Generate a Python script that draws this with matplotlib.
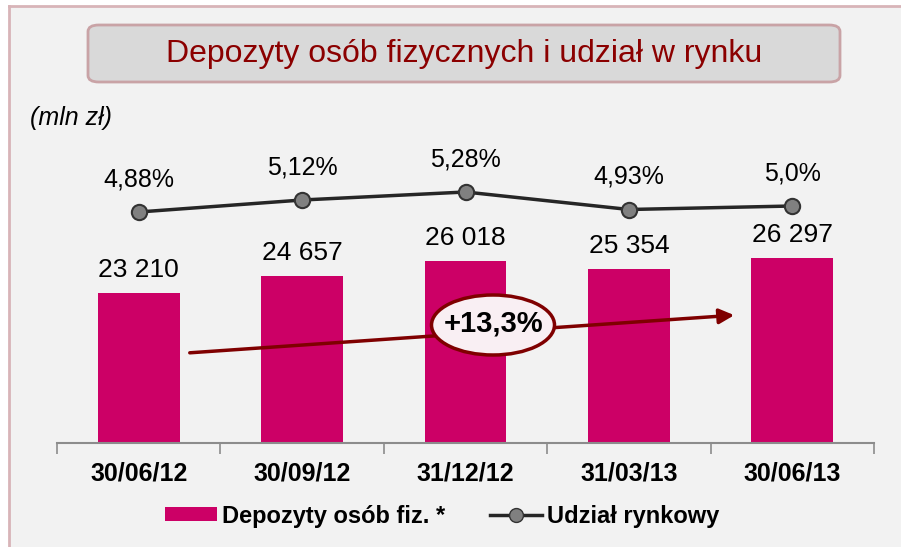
import matplotlib
matplotlib.use("Agg")
import matplotlib.pyplot as plt
from matplotlib.patches import Rectangle, FancyBboxPatch, Ellipse, FancyArrowPatch
from matplotlib.lines import Line2D

categories = ["30/06/12", "30/09/12", "31/12/12", "31/03/13", "30/06/13"]
deposits = [23210, 24657, 26018, 25354, 26297]
deposit_labels = ["23 210", "24 657", "26 018", "25 354", "26 297"]
share = [4.88, 5.12, 5.28, 4.93, 5.00]
share_labels = ["4,88%", "5,12%", "5,28%", "4,93%", "5,0%"]
growth_label = "+13,3%"
title = "Depozyty osób fizycznych i udział w rynku"
unit_label = "(mln zł)"
legend_labels = ["Depozyty osób fiz. *", "Udział rynkowy"]

FONT = "Liberation Sans"
plt.rcParams['font.family'] = [FONT, 'DejaVu Sans']

W, H = 901, 547
fig = plt.figure(figsize=(W / 100, H / 100), dpi=100, facecolor="white")

# panel background
fig.patches.append(Rectangle((9 / W, 0), 1 - 9 / W, 1 - 6 / H, transform=fig.transFigure,
                             facecolor="#f2f2f2", edgecolor="none", zorder=-10))
fig.add_artist(Line2D([9 / W, 9 / W], [0, 1 - 6 / H], transform=fig.transFigure,
                      color="#d8b4b8", lw=2, zorder=1))
fig.add_artist(Line2D([9 / W, 1], [1 - 6 / H, 1 - 6 / H], transform=fig.transFigure,
                      color="#d8b4b8", lw=2, zorder=1))

# title box
fig.patches.append(FancyBboxPatch((88 / W, 1 - 82 / H), (840 - 88) / W, (82 - 25) / H,
                                  boxstyle="round,pad=0,rounding_size=0.012",
                                  transform=fig.transFigure, facecolor="#d9d9d9",
                                  edgecolor="#c9a3a6", lw=2, zorder=1))
fig.text(464 / W, 1 - 54 / H, title, ha="center", va="center", fontsize=23,
         color="#8b0000", zorder=2)
fig.text(30 / W, 1 - 118 / H, unit_label, ha="left", va="center", fontsize=18,
         style="italic", color="black")

ax = fig.add_axes([57 / W, 104 / H, (874 - 57) / W, 284 / H])
ax.set_facecolor("none")
x = list(range(len(categories)))
ax.bar(x, deposits, width=0.5, color="#cc0066", zorder=2)
ax.set_xlim(-0.5, len(categories) - 0.5)
ax.set_ylim(10000, 35000)
for s in ["top", "right", "left"]:
    ax.spines[s].set_visible(False)
ax.spines["bottom"].set_color("#8c8c8c")
ax.spines["bottom"].set_linewidth(1.5)
ax.set_yticks([])
ax.set_xticks(x)
ax.set_xticklabels(categories, fontsize=18, fontweight="bold")
ax.tick_params(axis="x", which="major", length=0, pad=13)
ax.set_xticks([i - 0.5 for i in range(len(categories) + 1)], minor=True)
ax.tick_params(axis="x", which="minor", length=8, width=1.2, color="#8c8c8c", direction="out")

for xi, v, lab in zip(x, deposits, deposit_labels):
    ax.annotate(lab, (xi, v), xytext=(0, 16), textcoords="offset pixels",
                ha="center", va="baseline", fontsize=19, color="black")

ax2 = ax.twinx()
ax2.set_ylim(0.26, 5.94)
ax2.axis("off")
ax2.plot(x, share, color="#262626", lw=2.5, marker="o", markersize=11,
         markerfacecolor="#808080", markeredgecolor="#333333", markeredgewidth=1.5, zorder=3)
for xi, v, lab in zip(x, share, share_labels):
    ax2.annotate(lab, (xi, v), xytext=(0, 26), textcoords="offset pixels",
                 ha="center", va="baseline", fontsize=18, color="black")

# growth arrow
fig.add_artist(FancyArrowPatch(
    (187 / W, 1 - 353 / H), (737 / W, 1 - 315 / H), transform=fig.transFigure,
    arrowstyle="-|>,head_length=9,head_width=4.5", color="#7f0000", lw=2.5,
    mutation_scale=1, zorder=4))
fig.patches.append(Ellipse((493 / W, 1 - 325 / H), 123 / W, 60 / H, transform=fig.transFigure,
                           facecolor="#f9eff3", edgecolor="#7f0000", lw=2.5, zorder=5))
fig.text(494 / W, 1 - 324 / H, growth_label, ha="center", va="center", fontsize=21,
         fontweight="bold", color="black", zorder=6)

# legend
handles = [Rectangle((0, 0), 1, 1, facecolor="#cc0066", edgecolor="none"),
           Line2D([], [], color="#262626", lw=2.5, marker="o", markersize=10,
                  markerfacecolor="#808080", markeredgecolor="#333333")]
fig.legend(handles, legend_labels, loc="center", bbox_to_anchor=(442 / W, 1 - 516 / H),
           ncol=2, frameon=False, prop={"size": 17, "weight": "bold"},
           handlelength=2.2, handleheight=0.55, handletextpad=0.2, columnspacing=1.9)

fig.savefig("out.png", dpi=100, facecolor="white")
